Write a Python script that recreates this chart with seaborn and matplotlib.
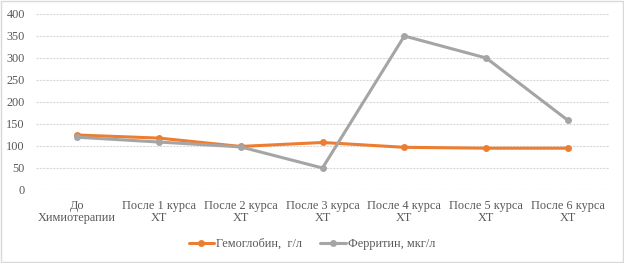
import matplotlib
matplotlib.use("Agg")
import matplotlib.pyplot as plt
import pandas as pd
import seaborn as sns
from matplotlib.patches import Rectangle

stages = ["До\nХимиотерапии", "После 1 курса\nХТ", "После 2 курса\nХТ", "После 3 курса\nХТ",
          "После 4 курса\nХТ", "После 5 курса\nХТ", "После 6 курса\nХТ"]
hemoglobin = [125, 118, 99, 108, 97, 95, 95]
ferritin = [120, 109, 98, 50, 350, 300, 158]
series_names = ["Гемоглобин,  г/л", "Ферритин, мкг/л"]
colors = ["#ED7D31", "#A5A5A5"]

df = pd.DataFrame({
    "stage": list(range(len(stages))) * 2,
    "value": hemoglobin + ferritin,
    "series": [series_names[0]] * len(stages) + [series_names[1]] * len(stages),
})

sns.set_style("white")
plt.rcParams["font.family"] = ["Liberation Serif", "DejaVu Serif"]

fig = plt.figure(figsize=(6.24, 2.63), dpi=100)
ax = fig.add_axes([36 / 624, 1 - 190 / 263, 573 / 624, 176 / 263])

sns.lineplot(data=df, x="stage", y="value", hue="series", hue_order=series_names,
             palette=colors, marker="o", markersize=5, markeredgewidth=0,
             linewidth=2.2, ax=ax)

ax.set_xlim(-0.5, len(stages) - 0.5)
ax.set_ylim(0, 400)
ax.set_yticks(range(0, 401, 50))
ax.set_xticks(range(len(stages)))
ax.set_xticklabels(stages, linespacing=1.05)
ax.tick_params(axis="both", length=0, labelsize=8.8, colors="#595959")
ax.tick_params(axis="x", pad=7)
ax.tick_params(axis="y", pad=8)
ax.yaxis.grid(True, color="#D9D9D9", linewidth=0.8, linestyle=(0, (2, 1)))
ax.set_axisbelow(True)
for s in ax.spines.values():
    s.set_visible(False)
ax.set_xlabel("")
ax.set_ylabel("")

handles, labels = ax.get_legend_handles_labels()
ax.legend(handles, labels, loc="center", bbox_to_anchor=(0.5, 1 - 244 / 263),
          bbox_transform=fig.transFigure, ncol=2, frameon=False, fontsize=8.8,
          labelcolor="#595959", handlelength=2.1, columnspacing=1.5, handletextpad=0.15)

fig.patches.append(Rectangle((0.002, 0.004), 0.996, 0.992, transform=fig.transFigure,
                             fill=False, edgecolor="#D9D9D9", linewidth=1))

fig.savefig("out.png", dpi=100)
